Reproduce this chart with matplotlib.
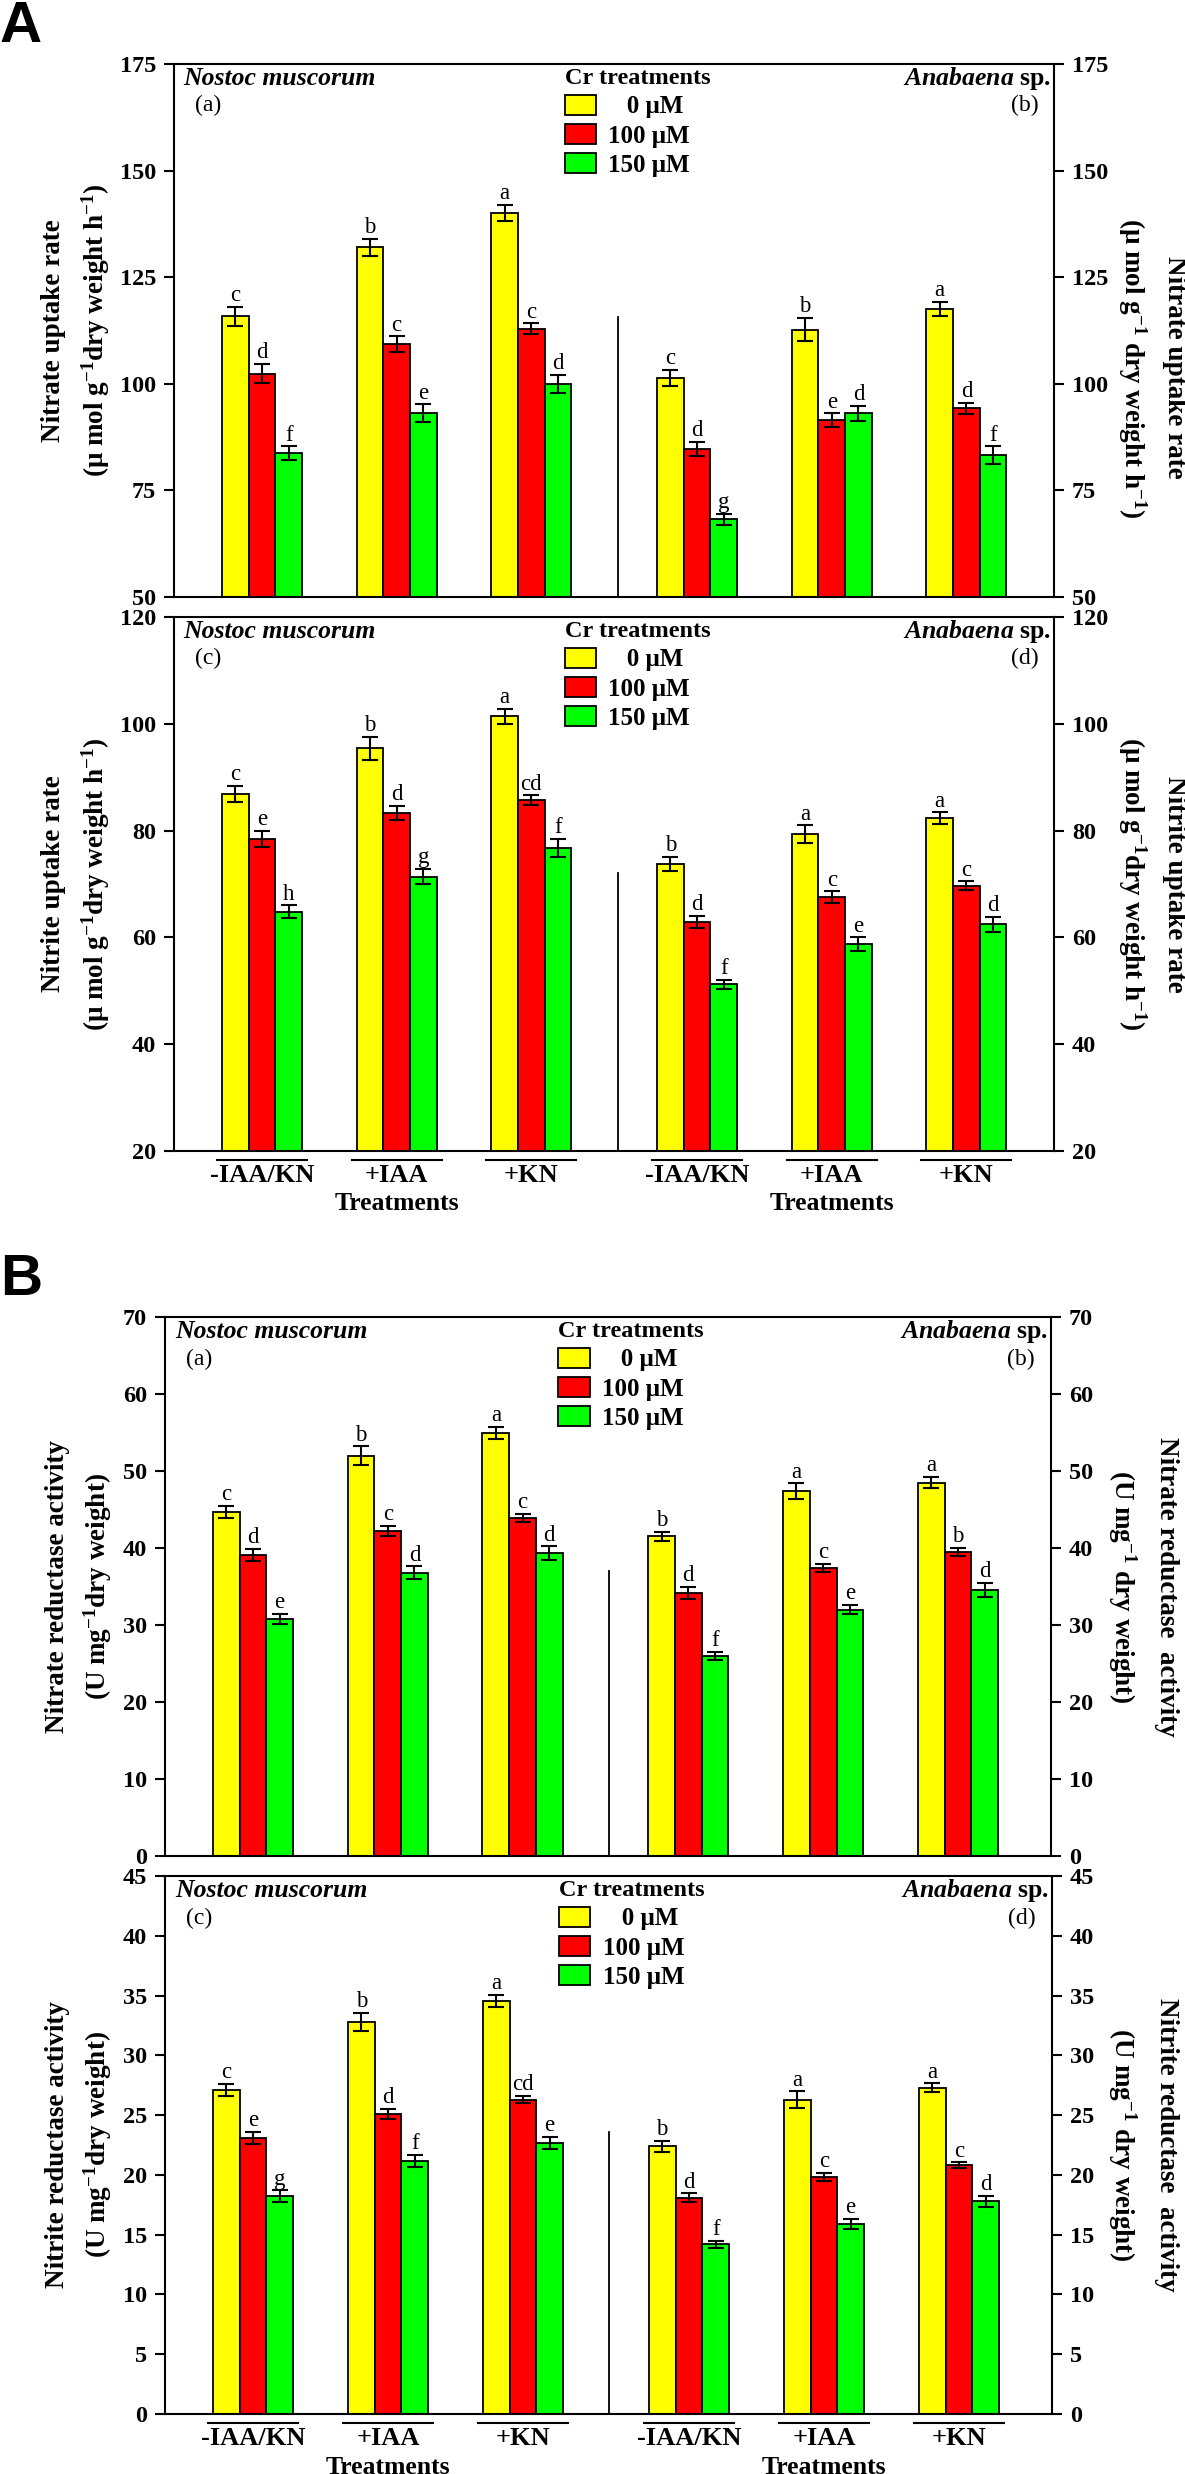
import matplotlib
matplotlib.use('Agg')
import matplotlib.pyplot as plt
from matplotlib.patches import Patch
import numpy as np

plt.rcParams['font.family'] = ['Liberation Serif', 'DejaVu Serif']
plt.rcParams['font.weight'] = 'bold'
plt.rcParams['mathtext.fontset'] = 'custom'
plt.rcParams['mathtext.rm'] = 'Liberation Serif:bold'
plt.rcParams['mathtext.it'] = 'Liberation Serif:italic:bold'
plt.rcParams['mathtext.bf'] = 'Liberation Serif:bold'
plt.rcParams['mathtext.default'] = 'rm'

# ---------------- data ----------------
treatments = ['-IAA/KN', '+IAA', '+KN']
cr_levels = ['0 μM', '100 μM', '150 μM']
colors = ['#FFFF00', '#FF0000', '#00FF00']

# Panel A (top): nitrate uptake rate
nu_nostoc_0 = [115.8, 132.0, 140.1]
nu_nostoc_100 = [102.4, 109.3, 112.9]
nu_nostoc_150 = [83.7, 93.1, 100.0]
nu_nostoc_err_0 = [2.2, 2.0, 1.9]
nu_nostoc_err_100 = [2.2, 1.8, 1.3]
nu_nostoc_err_150 = [1.6, 2.1, 2.1]
nu_nostoc_let_0 = ['c', 'b', 'a']
nu_nostoc_let_100 = ['d', 'c', 'c']
nu_nostoc_let_150 = ['f', 'e', 'd']
nu_anab_0 = [101.4, 112.7, 117.5]
nu_anab_100 = [84.7, 91.5, 94.3]
nu_anab_150 = [68.2, 93.1, 83.3]
nu_anab_err_0 = [1.8, 2.7, 1.7]
nu_anab_err_100 = [1.7, 1.6, 1.3]
nu_anab_err_150 = [1.3, 1.8, 2.0]
nu_anab_let_0 = ['c', 'b', 'a']
nu_anab_let_100 = ['d', 'e', 'd']
nu_anab_let_150 = ['g', 'd', 'f']

# Panel A (bottom): nitrite uptake rate
ni_nostoc_0 = [86.9, 95.4, 101.4]
ni_nostoc_100 = [78.4, 83.3, 85.7]
ni_nostoc_150 = [64.8, 71.4, 76.8]
ni_nostoc_err_0 = [1.5, 2.2, 1.4]
ni_nostoc_err_100 = [1.5, 1.3, 0.9]
ni_nostoc_err_150 = [1.2, 1.4, 1.7]
ni_nostoc_let_0 = ['c', 'b', 'a']
ni_nostoc_let_100 = ['e', 'd', 'cd']
ni_nostoc_let_150 = ['h', 'g', 'f']
ni_anab_0 = [73.8, 79.3, 82.3]
ni_anab_100 = [62.9, 67.5, 69.7]
ni_anab_150 = [51.2, 58.7, 62.5]
ni_anab_err_0 = [1.3, 1.7, 1.1]
ni_anab_err_100 = [1.1, 1.1, 0.8]
ni_anab_err_150 = [0.9, 1.3, 1.4]
ni_anab_let_0 = ['b', 'a', 'a']
ni_anab_let_100 = ['d', 'c', 'c']
ni_anab_let_150 = ['f', 'e', 'd']

# Panel B (top): nitrate reductase activity
nr_nostoc_0 = [44.7, 52.0, 54.9]
nr_nostoc_100 = [39.1, 42.2, 43.9]
nr_nostoc_150 = [30.8, 36.8, 39.3]
nr_nostoc_err_0 = [0.8, 1.2, 0.8]
nr_nostoc_err_100 = [0.8, 0.7, 0.5]
nr_nostoc_err_150 = [0.65, 0.8, 0.9]
nr_nostoc_let_0 = ['c', 'b', 'a']
nr_nostoc_let_100 = ['d', 'c', 'c']
nr_nostoc_let_150 = ['e', 'd', 'd']
nr_anab_0 = [41.5, 47.4, 48.5]
nr_anab_100 = [34.2, 37.4, 39.5]
nr_anab_150 = [26.0, 32.0, 34.6]
nr_anab_err_0 = [0.6, 1.0, 0.7]
nr_anab_err_100 = [0.8, 0.5, 0.5]
nr_anab_err_150 = [0.5, 0.6, 0.9]
nr_anab_let_0 = ['b', 'a', 'a']
nr_anab_let_100 = ['d', 'c', 'b']
nr_anab_let_150 = ['f', 'e', 'd']

# Panel B (bottom): nitrite reductase activity
nir_nostoc_0 = [27.1, 32.8, 34.55]
nir_nostoc_100 = [23.1, 25.1, 26.3]
nir_nostoc_150 = [18.2, 21.2, 22.7]
nir_nostoc_err_0 = [0.5, 0.75, 0.5]
nir_nostoc_err_100 = [0.5, 0.4, 0.3]
nir_nostoc_err_150 = [0.5, 0.5, 0.5]
nir_nostoc_let_0 = ['c', 'b', 'a']
nir_nostoc_let_100 = ['e', 'd', 'cd']
nir_nostoc_let_150 = ['g', 'f', 'e']
nir_anab_0 = [22.4, 26.3, 27.3]
nir_anab_100 = [18.1, 19.8, 20.8]
nir_anab_150 = [14.2, 15.9, 17.8]
nir_anab_err_0 = [0.45, 0.7, 0.35]
nir_anab_err_100 = [0.35, 0.35, 0.25]
nir_anab_err_150 = [0.3, 0.4, 0.45]
nir_anab_let_0 = ['b', 'a', 'a']
nir_anab_let_100 = ['d', 'c', 'c']
nir_anab_let_150 = ['f', 'e', 'd']

# ---------------- layout ----------------
W, H = 1185, 2474
fig = plt.figure(figsize=(W / 100, H / 100), dpi=100)

nostoc_x = np.arange(3)
anab_x = nostoc_x + 3.23
divider_x = 2.64
bar_w = 0.198


def rect(left, top, right, bottom):
    return [left / W, 1 - bottom / H, (right - left) / W, (bottom - top) / H]


def draw_panel(ax, nostoc, nostoc_err, nostoc_let, anab, anab_err, anab_let,
               ylim, yticks, div_top, left_lbl, right_lbl, tags, xlim,
               lbl_x, right_lbl_y=0.5, bottom=False):
    for i in range(3):
        off = (i - 1) * bar_w
        for xs, vals, errs, lets in ((nostoc_x, nostoc[i], nostoc_err[i], nostoc_let[i]),
                                     (anab_x, anab[i], anab_err[i], anab_let[i])):
            ax.bar(xs + off, vals, width=bar_w, color=colors[i],
                   edgecolor='black', linewidth=1.3, zorder=2)
            ax.errorbar(xs + off, vals, yerr=errs, fmt='none', ecolor='black',
                        elinewidth=1.5, capsize=5.5, capthick=1.5, zorder=3)
            for xx, v, e, t in zip(xs + off, vals, errs, lets):
                ax.annotate(t, (xx, v + e), xytext=(0, 0.5), textcoords='offset points',
                            ha='center', va='bottom', fontsize=16.5, fontweight='normal')
    ax.plot([divider_x, divider_x], [ylim[0], div_top], color='black', lw=1.3)
    ax.set_xlim(*xlim)
    ax.set_ylim(*ylim)
    ax.set_yticks(yticks)
    ax.set_xticks([])
    ax.tick_params(axis='y', direction='out', length=7, width=1.5, labelsize=17.5,
                   left=True, right=True, labelleft=True, labelright=True, pad=6)
    for s in ax.spines.values():
        s.set_linewidth(1.5)
    # y labels
    l1, l2 = left_lbl
    ax.text(lbl_x[0], 0.5, l1, transform=ax.transAxes, rotation=90,
            ha='center', va='center', fontsize=19.5)
    ax.text(lbl_x[1], 0.5, l2, transform=ax.transAxes, rotation=90,
            ha='center', va='center', fontsize=19.5)
    r1, r2 = right_lbl
    ax.text(lbl_x[2], right_lbl_y, r1, transform=ax.transAxes, rotation=270,
            ha='center', va='center', fontsize=19.5)
    ax.text(lbl_x[3], right_lbl_y, r2, transform=ax.transAxes, rotation=270,
            ha='center', va='center', fontsize=19.5)
    # species / panel tags
    ax.text(0.011, 0.973, 'Nostoc muscorum', transform=ax.transAxes, ha='left',
            va='center', fontsize=18.5, style='italic')
    ax.text(0.039, 0.922, tags[0], transform=ax.transAxes, ha='center',
            va='center', fontsize=17, fontweight='normal')
    ax.text(0.997, 0.973, r'$\mathit{Anabaena}$ sp.', transform=ax.transAxes,
            ha='right', va='center', fontsize=18.5)
    ax.text(0.982, 0.922, tags[1], transform=ax.transAxes, ha='right',
            va='center', fontsize=17, fontweight='normal')
    # legend
    handles = [Patch(facecolor=c, edgecolor='black', linewidth=1.3) for c in colors]
    ax.legend(handles, ['   ' + cr_levels[0], cr_levels[1], cr_levels[2]],
              title='Cr treatments', loc='upper left', bbox_to_anchor=(0.444, 0.992),
              frameon=False, fontsize=18, title_fontsize=17.5, handlelength=1.25,
              handleheight=0.85, handletextpad=0.5, labelspacing=0.22, borderpad=0,
              borderaxespad=0, alignment='left')
    if bottom:
        trans = ax.get_xaxis_transform()
        for xs in (nostoc_x, anab_x):
            for xx, t in zip(xs, treatments):
                x0 = xx - 1.5 * bar_w - 0.037
                x1 = xx + 1.5 * bar_w + 0.037
                ax.plot([x0, x1], [-0.017, -0.017], transform=trans, clip_on=False,
                        color='black', lw=1.5)
                ax.text(xx, -0.046, t, transform=trans, ha='center', va='center',
                        fontsize=19)
            ax.text(xs[1], -0.099, 'Treatments', transform=trans, ha='center',
                    va='center', fontsize=18.5)


xlim_a = (-0.653, 5.88)
xlim_b = (-0.652, 5.92)

axA1 = fig.add_axes(rect(174, 64, 1054, 597))
draw_panel(axA1,
           [nu_nostoc_0, nu_nostoc_100, nu_nostoc_150],
           [nu_nostoc_err_0, nu_nostoc_err_100, nu_nostoc_err_150],
           [nu_nostoc_let_0, nu_nostoc_let_100, nu_nostoc_let_150],
           [nu_anab_0, nu_anab_100, nu_anab_150],
           [nu_anab_err_0, nu_anab_err_100, nu_anab_err_150],
           [nu_anab_let_0, nu_anab_let_100, nu_anab_let_150],
           (50, 175), [50, 75, 100, 125, 150, 175], 115.7,
           ('Nitrate uptake rate', r'(μ mol g$^{-1}$dry weight h$^{-1}$)'),
           ('Nitrate uptake rate', r'(μ mol g$^{-1}$ dry weight h$^{-1}$)'),
           ('(a)', '(b)'), xlim_a,
           ((54 - 174) / 880, (96 - 174) / 880, (1175 - 174) / 880, (1132 - 174) / 880),
           right_lbl_y=0.43)

axA2 = fig.add_axes(rect(174, 617, 1054, 1151))
draw_panel(axA2,
           [ni_nostoc_0, ni_nostoc_100, ni_nostoc_150],
           [ni_nostoc_err_0, ni_nostoc_err_100, ni_nostoc_err_150],
           [ni_nostoc_let_0, ni_nostoc_let_100, ni_nostoc_let_150],
           [ni_anab_0, ni_anab_100, ni_anab_150],
           [ni_anab_err_0, ni_anab_err_100, ni_anab_err_150],
           [ni_anab_let_0, ni_anab_let_100, ni_anab_let_150],
           (20, 120), [20, 40, 60, 80, 100, 120], 72,
           ('Nitrite uptake rate', r'(μ mol g$^{-1}$dry weight h$^{-1}$)'),
           ('Nitrite uptake rate', r'(μ mol g$^{-1}$dry weight h$^{-1}$)'),
           ('(c)', '(d)'), xlim_a,
           ((54 - 174) / 880, (96 - 174) / 880, (1175 - 174) / 880, (1132 - 174) / 880),
           bottom=True)

axB1 = fig.add_axes(rect(165, 1317, 1051, 1856))
draw_panel(axB1,
           [nr_nostoc_0, nr_nostoc_100, nr_nostoc_150],
           [nr_nostoc_err_0, nr_nostoc_err_100, nr_nostoc_err_150],
           [nr_nostoc_let_0, nr_nostoc_let_100, nr_nostoc_let_150],
           [nr_anab_0, nr_anab_100, nr_anab_150],
           [nr_anab_err_0, nr_anab_err_100, nr_anab_err_150],
           [nr_anab_let_0, nr_anab_let_100, nr_anab_let_150],
           (0, 70), [0, 10, 20, 30, 40, 50, 60, 70], 37,
           ('Nitrate reductase activity', r'(U mg$^{-1}$dry weight)'),
           ('Nitrate reductase  activity', r'(U mg$^{-1}$ dry weight)'),
           ('(a)', '(b)'), xlim_b,
           ((58 - 165) / 886, (98 - 165) / 886, (1167 - 165) / 886, (1122 - 165) / 886))

axB2 = fig.add_axes(rect(165, 1876, 1052, 2414))
draw_panel(axB2,
           [nir_nostoc_0, nir_nostoc_100, nir_nostoc_150],
           [nir_nostoc_err_0, nir_nostoc_err_100, nir_nostoc_err_150],
           [nir_nostoc_let_0, nir_nostoc_let_100, nir_nostoc_let_150],
           [nir_anab_0, nir_anab_100, nir_anab_150],
           [nir_anab_err_0, nir_anab_err_100, nir_anab_err_150],
           [nir_anab_let_0, nir_anab_let_100, nir_anab_let_150],
           (0, 45), [0, 5, 10, 15, 20, 25, 30, 35, 40, 45], 23.6,
           ('Nitrite reductase activity', r'(U mg$^{-1}$dry weight)'),
           ('Nitrite reductase  activity', r'(U mg$^{-1}$ dry weight)'),
           ('(c)', '(d)'), xlim_b,
           ((58 - 165) / 887, (98 - 165) / 887, (1167 - 165) / 887, (1122 - 165) / 887),
           bottom=True)

fig.text(0 / W, 1 - 27 / H, 'A', fontsize=42, family=['Liberation Sans', 'DejaVu Sans'],
         fontweight='bold', ha='left', va='center')
fig.text(0 / W, 1 - 1280 / H, 'B', fontsize=42, family=['Liberation Sans', 'DejaVu Sans'],
         fontweight='bold', ha='left', va='center')

fig.savefig('out.png', dpi=100)
